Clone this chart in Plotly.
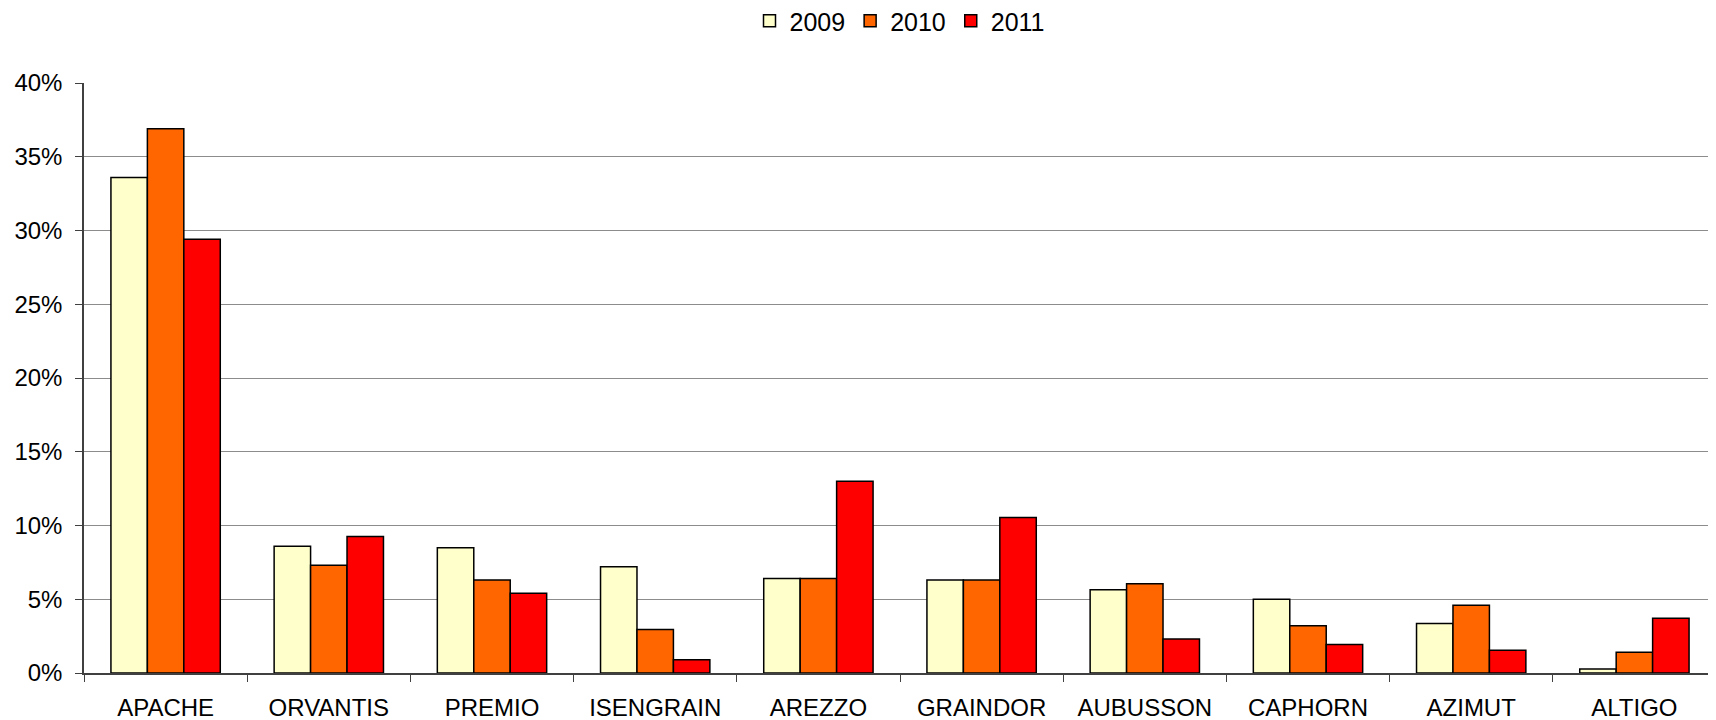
import plotly.graph_objects as go

################################################################################

varieties = ["APACHE", "ORVANTIS", "PREMIO", "ISENGRAIN", "AREZZO",
             "GRAINDOR", "AUBUSSON", "CAPHORN", "AZIMUT", "ALTIGO"]

share_2009 = [33.6, 8.6, 8.5, 7.2, 6.4, 6.3, 5.65, 5.0, 3.35, 0.27]
share_2010 = [36.9, 7.3, 6.3, 2.95, 6.4, 6.3, 6.05, 3.2, 4.6, 1.4]
share_2011 = [29.4, 9.25, 5.4, 0.9, 13.0, 10.55, 2.3, 1.93, 1.55, 3.72]

y_ticks = [0, 5, 10, 15, 20, 25, 30, 35, 40]
y_tick_labels = ["0%", "5%", "10%", "15%", "20%", "25%", "30%", "35%", "40%"]

series = [
    ("2009", share_2009, "#FFFFCC"),
    ("2010", share_2010, "#FF6600"),
    ("2011", share_2011, "#FF0000"),
]

################################################################################

# the page body has an 8px margin, so the figure is 8px smaller than the window
W, H = 1708, 712

fig = go.Figure()

for name, values, colour in series:
    fig.add_trace(go.Bar(
        x=varieties,
        y=values,
        name=name,
        marker_color=colour,
        marker_line_color="black",
        marker_line_width=1.5,
    ))

font = dict(family="Liberation Sans, Arial, sans-serif", size=24, color="black")

fig.update_layout(
    barmode="group",
    bargap=0.33,
    bargroupgap=0,
    width=W,
    height=H,
    margin=dict(l=76, r=0, t=75, b=47),
    paper_bgcolor="white",
    plot_bgcolor="white",
    font=font,
    showlegend=True,
    legend=dict(
        orientation="h",
        x=0.5, xanchor="center",
        y=1 - 13 / H, yref="container", yanchor="middle",
        font=dict(family="Liberation Sans, Arial, sans-serif", size=25),
        traceorder="normal",
        itemclick=False,
    ),
)

fig.update_xaxes(
    showline=True, linecolor="#404040", linewidth=1.5,
    ticks="outside", tickson="boundaries", ticklen=7, tickcolor="#404040",
    ticklabelstandoff=12,
    showgrid=False,
    tickfont=font,
)

fig.update_yaxes(
    range=[0, 40],
    tickvals=y_ticks, ticktext=y_tick_labels,
    showline=True, linecolor="#404040", linewidth=1.5,
    ticks="outside", ticklen=7, tickcolor="#404040",
    ticklabelstandoff=8,
    showgrid=True, gridcolor="#8c8c8c", gridwidth=1.3,
    zeroline=False,
    tickfont=font,
)

fig.write_html("out.html")
